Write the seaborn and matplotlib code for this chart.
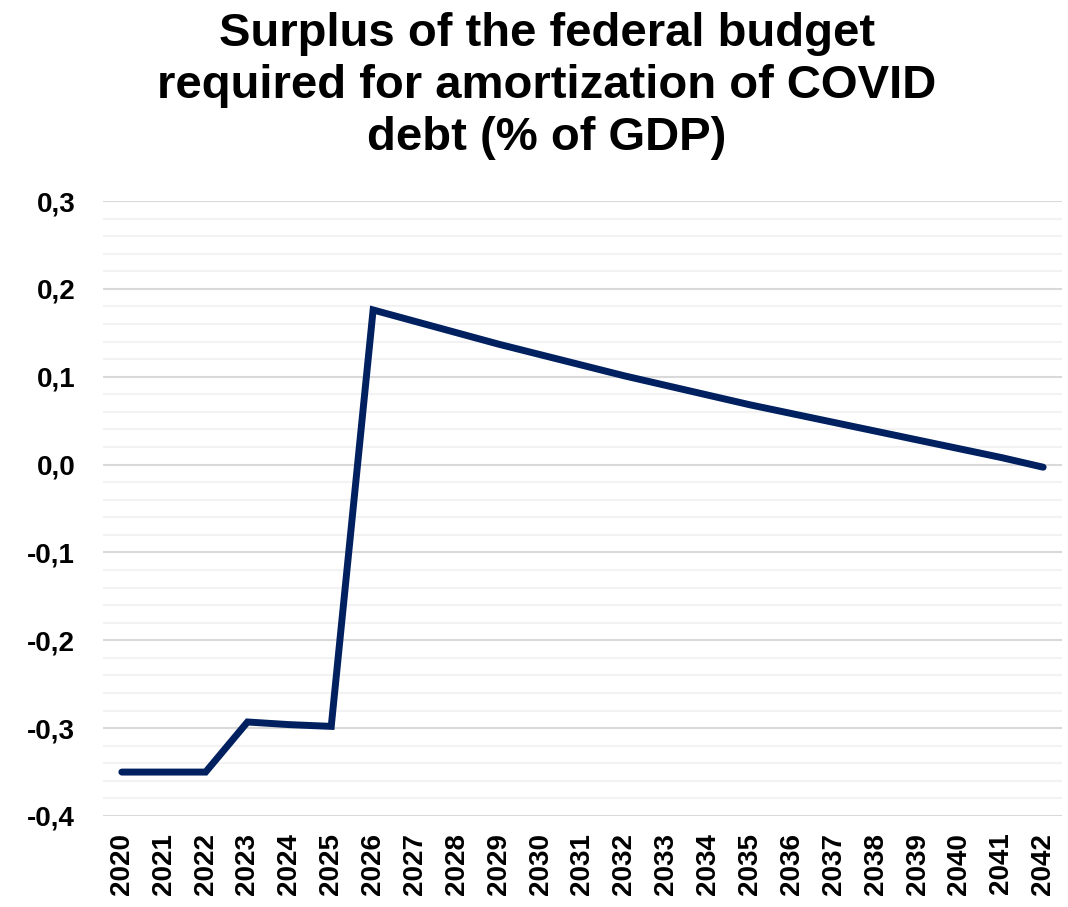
import matplotlib.pyplot as plt
import matplotlib.ticker as mticker
import seaborn as sns
import pandas as pd

years = [str(y) for y in range(2020, 2043)]
surplus = [-0.350, -0.350, -0.350, -0.293, -0.296, -0.298, 0.176,
           0.163, 0.150, 0.137, 0.125, 0.113, 0.101, 0.090, 0.079,
           0.068, 0.058, 0.048, 0.038, 0.028, 0.018, 0.008, -0.003]
y_ticks = [-0.4, -0.3, -0.2, -0.1, 0.0, 0.1, 0.2, 0.3]

df = pd.DataFrame({"Year": years, "Surplus": surplus})

sns.set_style("white")
plt.rcParams['font.family'] = ['Liberation Sans', 'DejaVu Sans']
plt.rcParams['text.color'] = 'black'
plt.rcParams['xtick.color'] = 'black'
plt.rcParams['ytick.color'] = 'black'

fig = plt.figure(figsize=(10.68, 9.07), dpi=100)
ax = fig.add_axes([103 / 1068, 1 - 816 / 907, (1062 - 103) / 1068, (816 - 201) / 907])

# gridlines: major every 0.1, minor every 0.02
ax.set_ylim(-0.4, 0.3)
ax.set_yticks(y_ticks)
ax.yaxis.set_minor_locator(mticker.MultipleLocator(0.02))
ax.grid(axis='y', which='major', color='#d9d9d9', linewidth=1.5)
ax.grid(axis='y', which='minor', color='#f2f2f2', linewidth=1.5)
ax.grid(axis='x', visible=False)
ax.set_axisbelow(True)

sns.lineplot(data=df, x="Year", y="Surplus", ax=ax, color='#002060',
             linewidth=5, solid_capstyle='round', solid_joinstyle='miter', sort=False)

ax.set_xlim(-0.45, len(years) - 1 + 0.45)
ax.set_xlabel("")
ax.set_ylabel("")
ax.yaxis.set_major_formatter(mticker.FuncFormatter(lambda v, p: f"{v:.1f}".replace(".", ",")))
ax.tick_params(axis='both', which='both', length=0, labelsize=20)
ax.tick_params(axis='y', pad=20)
ax.tick_params(axis='x', pad=12)
for lab in ax.get_xticklabels():
    lab.set_rotation(90)
    lab.set_fontweight('bold')
for lab in ax.get_yticklabels():
    lab.set_fontweight('bold')

for s in ax.spines.values():
    s.set_visible(False)

fig.suptitle("Surplus of the federal budget\nrequired for amortization of COVID\ndebt (% of GDP)",
             x=547 / 1068, y=1 - 12 / 907, fontsize=34, fontweight='bold', linespacing=1.24,
             va='top', color='black')

fig.savefig("out.png", dpi=100)
